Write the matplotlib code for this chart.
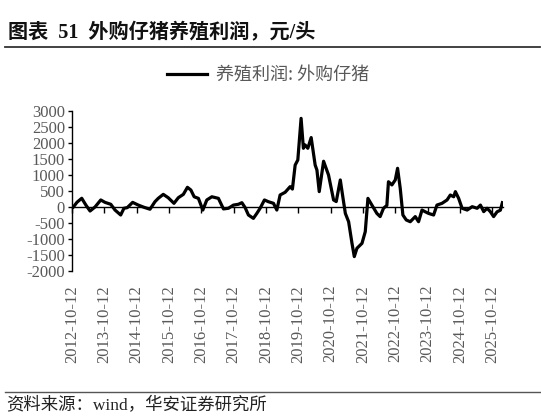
import matplotlib
matplotlib.use("Agg")
import matplotlib.pyplot as plt
import matplotlib.dates as mdates
import pandas as pd

plt.rcParams["axes.unicode_minus"] = False

# 外购仔猪养殖利润 (元/头)
dates = [
    "2012-10-27", "2012-12-08", "2013-01-30", "2013-03-18", "2013-05-04", "2013-06-29",
    "2013-09-02", "2013-10-20", "2013-12-24", "2014-02-10", "2014-04-15", "2014-05-22",
    "2014-06-28", "2014-08-28", "2014-10-31", "2015-01-04", "2015-03-12", "2015-05-07",
    "2015-06-13", "2015-08-09", "2015-10-04", "2015-12-08", "2016-01-26", "2016-03-23",
    "2016-05-08", "2016-06-16", "2016-07-23", "2016-09-09", "2016-10-29", "2016-12-13",
    "2017-02-08", "2017-04-23", "2017-06-19", "2017-08-14", "2017-10-10", "2017-12-05",
    "2018-01-13", "2018-02-19", "2018-03-28", "2018-05-23", "2018-07-01", "2018-08-07",
    "2018-09-25", "2018-11-09", "2019-01-05", "2019-02-12", "2019-03-21", "2019-05-17",
    "2019-07-12", "2019-08-07", "2019-09-07", "2019-10-07", "2019-11-13", "2019-12-09",
    "2019-12-28", "2020-01-28", "2020-03-06", "2020-04-20", "2020-05-10", "2020-06-05",
    "2020-07-24", "2020-09-18", "2020-11-14", "2020-12-14", "2021-01-29", "2021-03-01",
    "2021-03-27", "2021-05-03", "2021-06-10", "2021-07-06", "2021-08-05", "2021-10-01",
    "2021-11-07", "2021-12-07", "2022-01-21", "2022-03-18", "2022-04-24", "2022-06-01",
    "2022-07-09", "2022-07-27", "2022-09-04", "2022-10-12", "2022-11-07", "2022-12-07",
    "2023-01-06", "2023-02-13", "2023-03-30", "2023-05-26", "2023-07-02", "2023-08-10",
    "2023-09-16", "2023-10-23", "2023-12-19", "2024-01-26", "2024-03-23", "2024-05-19",
    "2024-06-25", "2024-08-02", "2024-08-21", "2024-09-27", "2024-11-05", "2025-01-01",
    "2025-02-27", "2025-04-24", "2025-05-31", "2025-07-07", "2025-08-14", "2025-09-20",
    "2025-10-27", "2025-12-05", "2026-01-11", "2026-02-03",
]
profit = [
    0, 150, 272, 60, -125, 0,
    220, 145, 85, -95, -250, -40,
    -20, 145, 60, -10, -70, 165,
    270, 395, 290, 115, 290, 395,
    615, 530, 320, 270, -95, 220,
    320, 270, -60, -40, 60, 85,
    135, -20, -250, -355, -200, -40,
    220, 165, 115, -95, 375, 460,
    635, 560, 1310, 1470, 2770, 1835,
    1940, 1835, 2170, 1310, 1155, 480,
    1430, 1000, 220, 170, 845, 270,
    -200, -460, -1135, -1550, -1290, -1135,
    -770, 270, 60, -200, -300, -40,
    50, 790, 690, 845, 1210, 585,
    -250, -405, -460, -300, -460, -95,
    -150, -200, -250, 60, 115, 220,
    375, 320, 480, 270, -40, -95,
    10, -40, 60, -145, -40, -145,
    -300, -150, -100, 135,
]
tick_dates = ["%d-10-12" % y for y in range(2012, 2026)]
y_ticks = list(range(-2000, 3001, 500))

x = mdates.date2num(pd.to_datetime(dates))
xt = mdates.date2num(pd.to_datetime(tick_dates))

serif_cjk = ["Liberation Serif", "Noto Sans CJK SC"]
grey = "#595959"

fig = plt.figure(figsize=(5.41, 4.20), dpi=100)
ax = fig.add_axes([72 / 541, 149 / 420, 431 / 541, 160 / 420])

line, = ax.plot(x, profit, color="black", lw=2.3, solid_joinstyle="round")

ax.set_xlim(xt[0], mdates.date2num(pd.Timestamp("2026-02-10")))
ax.set_ylim(-2000, 3000)

for s in ["top", "right"]:
    ax.spines[s].set_visible(False)
ax.spines["bottom"].set_position(("data", 0))
ax.spines["bottom"].set_linewidth(1.0)
ax.spines["left"].set_linewidth(1.0)

ax.set_xticks(xt)
ax.tick_params(axis="x", direction="out", length=4, width=1, labelbottom=False)
ax.set_yticks(y_ticks)
ax.set_yticklabels([str(v) for v in y_ticks], family="Liberation Serif",
                   fontsize=12, color=grey)
ax.tick_params(axis="y", direction="out", length=3, width=1, pad=2)

sec = ax.secondary_xaxis(0)
sec.set_xticks(xt, labels=tick_dates)
sec.tick_params(length=0, pad=10)
sec.spines["bottom"].set_visible(False)
for lab in sec.get_xticklabels():
    lab.set_rotation(90)
    lab.set_family("Liberation Serif")
    lab.set_fontsize(12)
    lab.set_color(grey)

leg = fig.legend([line], ["养殖利润: 外购仔猪"], loc="center",
                 bbox_to_anchor=(268 / 541, 1 - 75 / 420),
                 frameon=False, handlelength=2.2, handletextpad=0.5,
                 prop={"family": ["Noto Sans CJK SC"], "size": 13})
for t in leg.get_texts():
    t.set_color(grey)

fig.text(8 / 541, 1 - 33 / 420, "图表  51  外购仔猪养殖利润，元/头", family=serif_cjk,
         fontsize=14.5, fontweight="bold", va="center", ha="left", color="#111111")
fig.add_artist(plt.Line2D([5 / 541, 540 / 541], [1 - 47 / 420, 1 - 47 / 420],
                          color="#333333", lw=1.3))
fig.add_artist(plt.Line2D([5 / 541, 540 / 541], [1 - 392 / 420, 1 - 392 / 420],
                          color="#555555", lw=1.0))
fig.text(6 / 541, 1 - 406 / 420, "资料来源：wind，华安证券研究所", family=serif_cjk,
         fontsize=12.5, va="center", ha="left", color="#222222")

fig.savefig("out.png", dpi=100)
